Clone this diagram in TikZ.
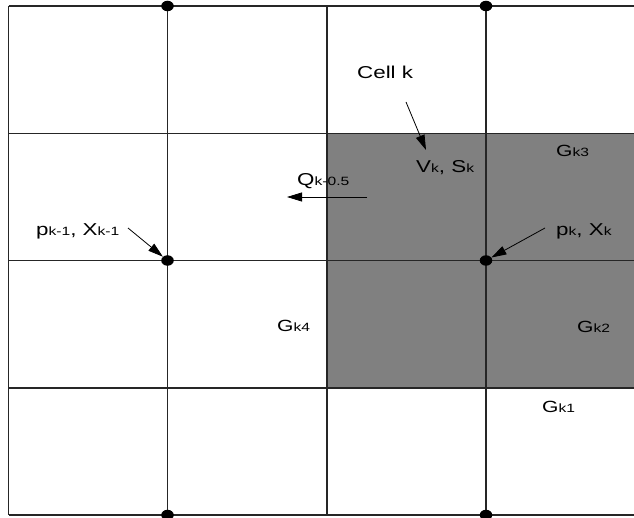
\documentclass[tikz,border=0pt]{standalone}
\usepackage{fontspec}
\setmainfont{Liberation Sans}[FakeStretch=1.3]
\usetikzlibrary{arrows.meta,shapes.geometric}
\newcommand{\lowsub}[1]{{\fontsize{12}{12}\selectfont #1}}
\begin{document}
\begin{tikzpicture}[x=1pt,y=-1pt,
  gridline/.style={line width=1.6pt,draw=black!85},
  dot/.style={ellipse,fill=black,inner sep=0pt,minimum width=12.5pt,minimum height=10.5pt},
  arr/.style={line width=0.8pt,-{Triangle[length=15pt,width=9pt]}},
  lbl/.style={anchor=base west,inner sep=0pt,font=\fontsize{17.2}{17.2}\selectfont},
  glbl/.style={anchor=base west,inner sep=0pt,font=\fontsize{16.2}{16.2}\selectfont}]
\useasboundingbox (0,0) rectangle (634,518);
\clip (0,0) rectangle (634,518);
% shaded cell region
\fill[fill={rgb,255:red,128;green,128;blue,128}] (327,133.5) rectangle (634,388);
% grid
\foreach \y in {6,133.5,260.5,388,515} \draw[gridline] (8.5,\y) -- (634,\y);
\foreach \x in {8.5,167.5,327,486} \draw[gridline] (\x,6) -- (\x,515);
% dots
\node[dot] (d11) at (167.5,6) {};
\node[dot] (d12) at (486,6) {};
\node[dot] (d21) at (167.5,260.5) {};
\node[dot] (d22) at (486,260.5) {};
\node[dot] (d31) at (167.5,515) {};
\node[dot] (d32) at (486,515) {};
% labels
\node[lbl] (cellk) at (357,79) {Cell k};
\node[lbl] (vs) at (416,173) {V\lowsub{k}, S\lowsub{k}};
\node[glbl] (g3) at (556,157) {G\lowsub{k3}};
\node[lbl] (q) at (297,186) {Q\lowsub{k-0.5}};
\node[lbl] (pkm) at (36,236) {p\lowsub{k-1}, X\lowsub{k-1}};
\node[lbl] (pk) at (556,236) {p\lowsub{k}, X\lowsub{k}};
\node[glbl] (g4) at (277,331) {G\lowsub{k4}};
\node[glbl] (g2) at (577,332) {G\lowsub{k2}};
\node[glbl] (g1) at (542,412) {G\lowsub{k1}};
% arrows
\coordinate (c1) at (406,102);
\coordinate (c1t) at (426,150);
\coordinate (q1) at (367,197);
\coordinate (q1t) at (287,197);
\coordinate (p1) at (128,228);
\coordinate (p2) at (545,228);
\draw[arr] (c1) -- (c1t);
\draw[arr] (q1) -- (q1t);
\draw[arr] (p1) -- (d21);
\draw[arr] (p2) -- (d22);
\end{tikzpicture}
\end{document}
